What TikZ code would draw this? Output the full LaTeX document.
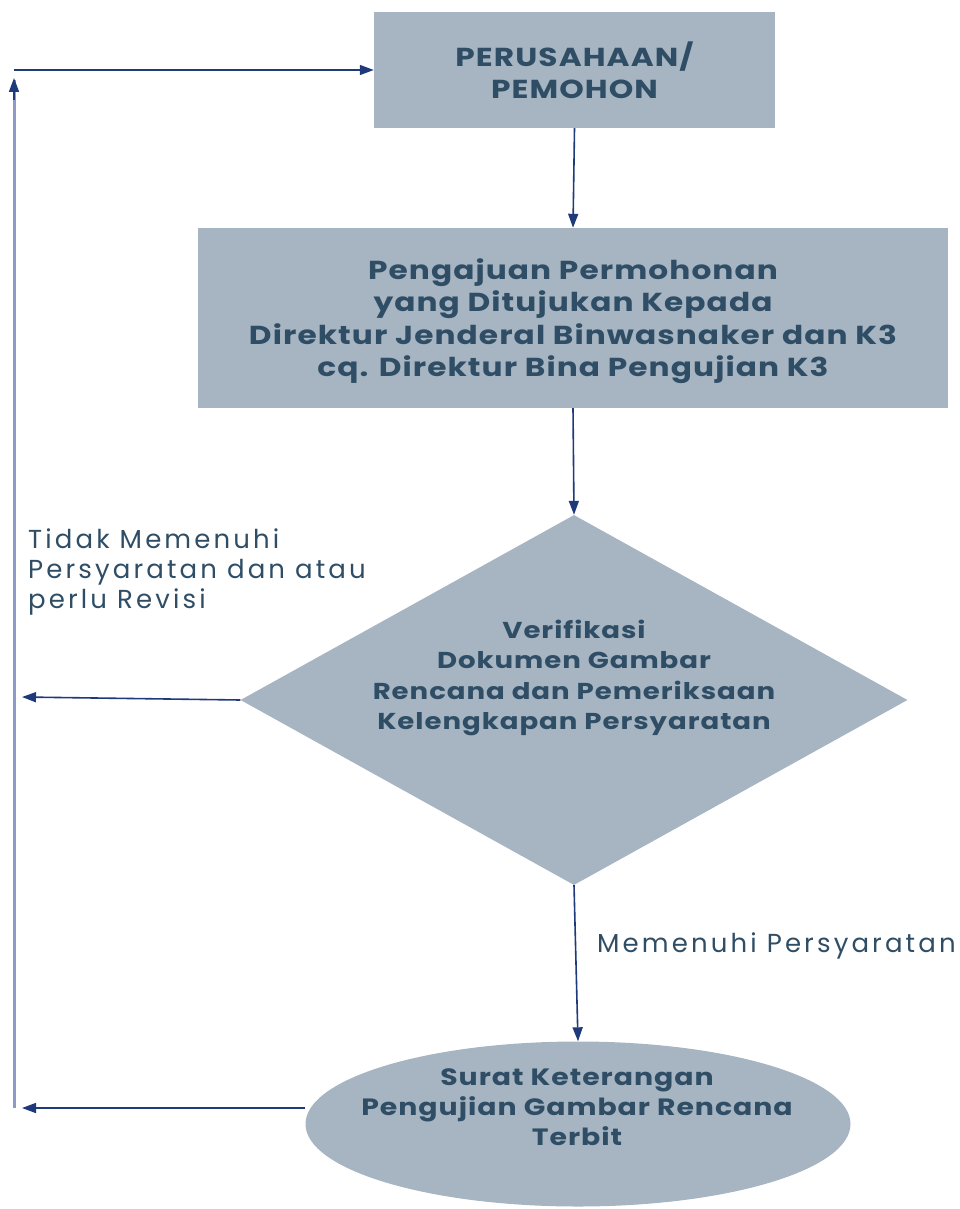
\documentclass[tikz,border=0pt]{standalone}
\usepackage{fontspec}
\setmainfont{Poppins}
\usetikzlibrary{shapes.geometric,arrows.meta}
\definecolor{boxfill}{HTML}{A6B5C1}
\definecolor{txt}{HTML}{2F4E66}
\definecolor{arr}{HTML}{1F3A7A}
\definecolor{vline}{HTML}{8E9AC8}
\newcommand\wl[1]{\scalebox{1.2}[1]{#1}}
\tikzset{
  box/.style={fill=boxfill,draw=none,inner sep=0pt,text=txt,font=\fontsize{26}{32.5}\selectfont\bfseries\addfontfeature{LetterSpace=3.5},align=center},
  btxt/.style={text=txt,inner sep=0pt,align=center},
  conn/.style={draw=arr,line width=1.6pt,-{Triangle[length=14pt,width=10pt]}},
  lbl/.style={text=txt,font=\fontsize{26}{30}\selectfont\addfontfeature{LetterSpace=12},align=left,inner sep=0pt}
}
\begin{document}
\begin{tikzpicture}[x=1pt,y=-1pt]
\useasboundingbox (0,0) rectangle (959,1209);
\node[box,minimum width=401pt,minimum height=116pt] (b1) at (574.5,70) {\wl{PERUSAHAAN/}\\\wl{PEMOHON}};
\node[box,minimum width=750pt,minimum height=180pt] (b2) at (573,318) {};
\node[btxt,font=\fontsize{26}{32.5}\selectfont\bfseries\addfontfeature{LetterSpace=3.5}] (b2t) at (573,321) {\wl{Pengajuan Permohonan}\\\wl{yang Ditujukan Kepada}\\\wl{Direktur Jenderal Binwasnaker dan K3}\\\wl{cq. Direktur Bina Pengujian K3}};
\node[box,diamond,minimum width=667pt,minimum height=370pt] (d) at (574,700) {};
\node[btxt,font=\fontsize{23}{30.5}\selectfont\bfseries\addfontfeature{LetterSpace=3.5}] (dt) at (574,678) {\wl{Verifikasi}\\\wl{Dokumen Gambar}\\\wl{Rencana dan Pemeriksaan}\\\wl{Kelengkapan Persyaratan}};
\node[box,ellipse,minimum width=545pt,minimum height=165pt] (e) at (578,1124) {};
\node[btxt,font=\fontsize{23.6}{30}\selectfont\bfseries\addfontfeature{LetterSpace=3.5}] (et) at (577,1107) {\wl{Surat Keterangan}\\\wl{Pengujian Gambar Rencana}\\\wl{Terbit}};
\coordinate (c1) at (22,697);
\coordinate (c2) at (22,1108);
\coordinate (c3) at (14,1108);
\coordinate (c4) at (14,70);
\draw[conn] (b1.south) -- (b2.north);
\draw[conn] (b2.south) -- (d.north);
\draw[conn] (d.south) -- (e.north);
\draw[conn] (d.west) -- (c1);
\draw[conn] (e.west |- c2) -- (c2);
\draw[draw=vline,line width=3pt] (c3) -- (14,80);
\draw[conn] (14,100) -- (14,78);
\draw[conn] (c4) -- (b1.west);
\node[lbl,anchor=north west] (l1) at (28,529) {Tidak Memenuhi\\Persyaratan dan atau\\perlu Revisi};
\node[lbl,anchor=west] (l2) at (597,946) {Memenuhi Persyaratan};
\end{tikzpicture}
\end{document}
